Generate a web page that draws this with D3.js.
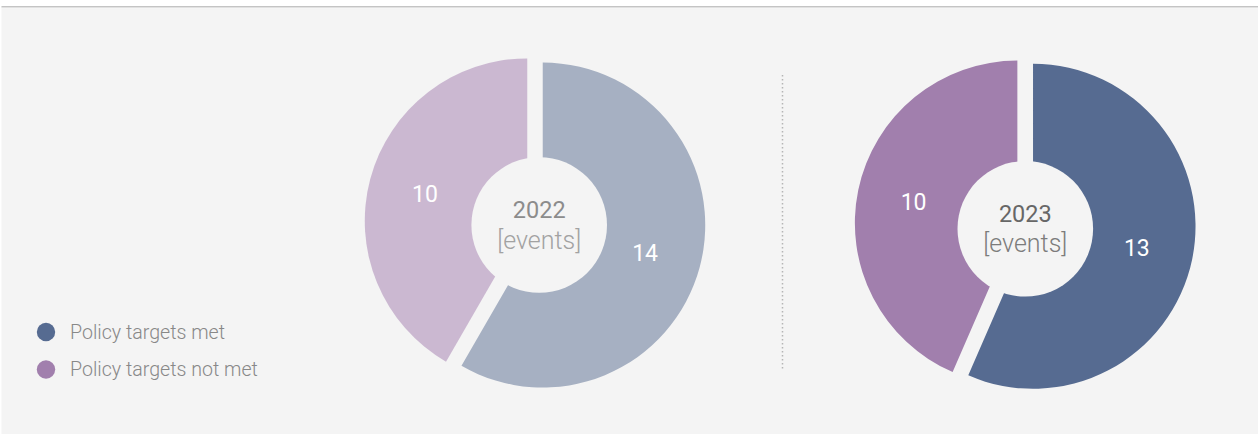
<!DOCTYPE html>
<html>
<head>
<meta charset="utf-8">
<script src="https://cdn.jsdelivr.net/npm/d3@7"></script>
<style>
  html, body { margin: 0; padding: 0; background: #ffffff; }
  svg { display: block; }
</style>
</head>
<body>
<svg id="chart" width="1258" height="434"></svg>
<script>
// ---- data ----
const years = ["2022", "2023"];
const categories = ["Policy targets met", "Policy targets not met"];
const targetsMet = [14, 13];
const targetsNotMet = [10, 10];
const unitLabel = "[events]";

// ---- style / layout ----
const W = 1258, H = 434;
const bg = "#f4f4f4";
const font = "Roboto, 'Open Sans', sans-serif";
const palettes = [
  ["#a6b0c2", "#cbb8d1"],   // 2022 (faded)
  ["#566b91", "#a17fad"]    // 2023
];
const legendColors = palettes[1];
const yearColors = [["#8c8c8c", "#a2a2a2"], ["#676767", "#7c7c7c"]];
const layouts = [
  { cx: 535, cy: 223, hx: 539.2, hy: 225 },
  { cx: 1025.2, cy: 224.7, hx: 1025.3, hy: 228.8 }
];
const outerR = 162.5, holeR = 67.8, explode = 8, labelR = 106;

const svg = d3.select("#chart");

// page frame
svg.append("rect").attr("x", 0).attr("y", 0).attr("width", W).attr("height", H).attr("fill", "#ffffff");
svg.append("rect").attr("x", 1.5).attr("y", 6).attr("width", W).attr("height", 1.2).attr("fill", "#c4c4c4");
svg.append("rect").attr("x", 1.5).attr("y", 7.2).attr("width", W).attr("height", 1).attr("fill", "#dcdcdc");
svg.append("rect").attr("x", 1.5).attr("y", 8.2).attr("width", W).attr("height", H).attr("fill", bg);

const pie = d3.pie().sort(null).value(d => d.value).startAngle(0).endAngle(2 * Math.PI);
const arc = d3.arc().innerRadius(0).outerRadius(outerR);

years.forEach((yr, i) => {
  const L = layouts[i];
  const data = [
    { key: categories[0], value: targetsMet[i], color: palettes[i][0] },
    { key: categories[1], value: targetsNotMet[i], color: palettes[i][1] }
  ];
  const g = svg.append("g");
  const arcs = pie(data);
  const slice = g.selectAll("g.slice").data(arcs).join("g")
    .attr("class", "slice")
    .attr("transform", d => {
      const m = (d.startAngle + d.endAngle) / 2;
      const x = L.cx + explode * Math.sin(m);
      const y = L.cy - explode * Math.cos(m);
      return `translate(${x},${y})`;
    });
  slice.append("path").attr("d", arc).attr("fill", d => d.data.color);
  slice.append("text")
    .attr("x", d => labelR * Math.sin((d.startAngle + d.endAngle) / 2))
    .attr("y", d => -labelR * Math.cos((d.startAngle + d.endAngle) / 2) + 1)
    .attr("text-anchor", "middle")
    .attr("dominant-baseline", "central")
    .attr("fill", "#ffffff")
    .attr("font-family", font)
    .attr("font-size", 23)
    .attr("font-weight", 400)
    .text(d => d.data.value);

  // centre hole
  g.append("circle").attr("cx", L.hx).attr("cy", L.hy).attr("r", holeR).attr("fill", bg);
  g.append("text")
    .attr("x", L.hx).attr("y", L.hy - 15)
    .attr("text-anchor", "middle").attr("dominant-baseline", "central")
    .attr("fill", yearColors[i][0]).attr("font-family", font)
    .attr("font-size", 23.5).attr("font-weight", 400)
    .text(yr);
  g.append("text")
    .attr("x", L.hx).attr("y", L.hy + 15)
    .attr("text-anchor", "middle").attr("dominant-baseline", "central")
    .attr("fill", yearColors[i][1]).attr("font-family", font)
    .attr("font-size", 25).attr("font-weight", 300)
    .text(unitLabel);
});

// divider
svg.append("line")
  .attr("x1", 782.5).attr("x2", 782.5).attr("y1", 75).attr("y2", 370)
  .attr("stroke", "#b5b5b5").attr("stroke-width", 1.5)
  .attr("stroke-dasharray", "1.5,2.5");

// legend
const legend = svg.append("g");
const item = legend.selectAll("g").data(categories).join("g")
  .attr("transform", (d, k) => `translate(46,${332 + k * 37.5})`);
item.append("circle").attr("r", 9.2).attr("fill", (d, k) => legendColors[k]);
item.append("text")
  .attr("x", 24).attr("y", 0)
  .attr("dominant-baseline", "central")
  .attr("fill", "#888888").attr("font-family", font)
  .attr("font-size", 19.6).attr("font-weight", 300)
  .text(d => d);
</script>
</body>
</html>
